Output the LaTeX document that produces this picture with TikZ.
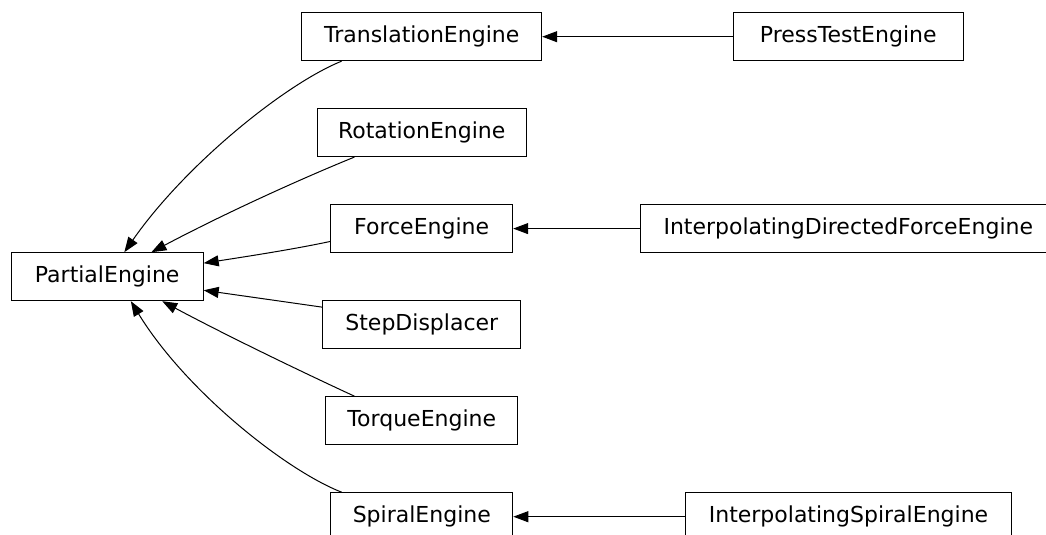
\documentclass[tikz,border=0pt]{standalone}
\usepackage{fontspec}
\setmainfont{DejaVu Sans}
\usetikzlibrary{arrows.meta}
\tikzset{
  cls/.style={draw=black, line width=1pt, rectangle, inner sep=0pt,
    minimum height=48pt, font=\fontsize{22}{26}\selectfont, fill=white},
  inh/.style={draw=black, line width=1pt, -{Triangle[length=15pt,width=11pt]}},
}
\begin{document}
\begin{tikzpicture}[x=1pt,y=-1pt]
\useasboundingbox (0,0) rectangle (1046,535);
\clip (0,0) rectangle (1046,535);
\fill[white] (0,0) rectangle (1046,535);
% nodes
\node[cls, minimum width=192pt] (pe) at (107.2,276.7) {PartialEngine};
\node[cls, minimum width=240pt] (trans) at (421.7,36.7) {TranslationEngine};
\node[cls, minimum width=209pt] (rot) at (421.7,132.6) {RotationEngine};
\node[cls, minimum width=182pt] (force) at (421.7,228.6) {ForceEngine};
\node[cls, minimum width=198pt] (step) at (421.8,324.7) {StepDisplacer};
\node[cls, minimum width=192pt] (torque) at (421.8,420.7) {TorqueEngine};
\node[cls, minimum width=182pt] (spiral) at (421.8,516.7) {SpiralEngine};
\node[cls, minimum width=230pt] (press) at (848.3,36.7) {PressTestEngine};
\node[cls, minimum width=416pt] (idfe) at (848.3,228.6) {InterpolatingDirectedForceEngine};
\node[cls, minimum width=326pt] (ise) at (848.5,516.7) {InterpolatingSpiralEngine};
% edges to PartialEngine
\draw[inh] (trans.197.4) .. controls (285,84) and (185,165) .. (pe.55);
\draw[inh] (rot.200.4) .. controls (315,173) and (235,208) .. (pe.29.3);
\draw[inh] (force.188.6) .. controls (295,249) and (250,256) .. (pe.8.9);
\draw[inh] (step.170.6) -- (pe.-8.9);
\draw[inh] (torque.160.3) .. controls (315,378) and (235,340) .. (pe.-24.9);
\draw[inh] (spiral.163.5) .. controls (285,470) and (185,390) .. (pe.-46);
% horizontal edges
\draw[inh] (press.west) -- (trans.east);
\draw[inh] (idfe.west) -- (force.east);
\draw[inh] (ise.west) -- (spiral.east);
\end{tikzpicture}
\end{document}
